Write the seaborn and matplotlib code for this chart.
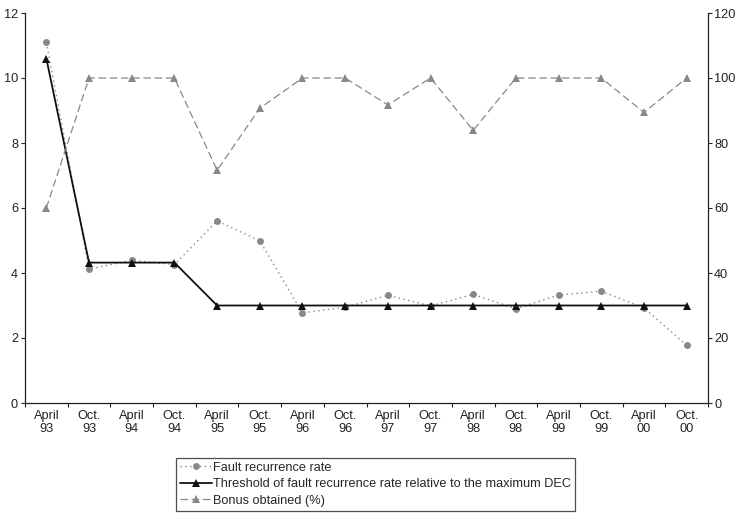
import matplotlib
matplotlib.use("Agg")
import matplotlib.pyplot as plt
import seaborn as sns
import pandas as pd
import numpy as np

periods = ["April\n93", "Oct.\n93", "April\n94", "Oct.\n94", "April\n95", "Oct.\n95",
           "April\n96", "Oct.\n96", "April\n97", "Oct.\n97", "April\n98", "Oct.\n98",
           "April\n99", "Oct.\n99", "April\n00", "Oct.\n00"]
fault_rate = [11.10, 4.12, 4.39, 4.26, 5.60, 4.99, 2.77, 2.95, 3.31, 2.99, 3.34, 2.90,
              3.32, 3.44, 2.93, 1.77]
threshold = [10.6, 4.32, 4.32, 4.32, 3.0, 3.0, 3.0, 3.0, 3.0, 3.0, 3.0, 3.0,
             3.0, 3.0, 3.0, 3.0]
bonus = [60, 100, 100, 100, 71.6, 90.7, 100, 100, 91.7, 100, 83.9, 100,
         100, 100, 89.4, 100]

sns.set_style("ticks")
plt.rcParams["font.family"] = ["Liberation Sans", "DejaVu Sans"]

df = pd.DataFrame({"x": np.arange(len(periods)), "fault": fault_rate,
                   "thr": threshold, "bonus": bonus})

fig = plt.figure(figsize=(7.37, 5.17), dpi=100)
ax = fig.add_axes([25/737, 1-403/517, (708-25)/737, (403-13)/517])
ax2 = ax.twinx()

sns.lineplot(data=df, x="x", y="fault", ax=ax, color="#888888", linestyle=(0, (1, 2.5)),
             linewidth=1.0, marker="o", markersize=5, markeredgewidth=0, sort=False,
             label="Fault recurrence rate", legend=False)
sns.lineplot(data=df, x="x", y="thr", ax=ax, color="#111111", linestyle="-",
             linewidth=1.3, marker="^", markersize=6, markeredgewidth=0, sort=False,
             label="Threshold of fault recurrence rate relative to the maximum DEC", legend=False)
sns.lineplot(data=df, x="x", y="bonus", ax=ax2, color="#888888", linestyle=(0, (6, 3)),
             linewidth=0.9, marker="^", markersize=5.5, markeredgewidth=0, sort=False,
             label="Bonus obtained (%)", legend=False)

fs = 9.2
ax.set_xlim(-0.5, len(periods) - 0.5)
ax.set_ylim(0, 12)
ax2.set_ylim(0, 120)
ax.set_yticks(range(0, 13, 2))
ax2.set_yticks(range(0, 121, 20))
ax.set_xticks(np.arange(len(periods)))
ax.set_xticklabels(periods, linespacing=1.1)
ax.set_xticks(np.arange(-0.5, len(periods)), minor=True)
ax.tick_params(axis="x", which="major", length=0, labelsize=fs, pad=5, colors="#222222")
ax.tick_params(axis="x", which="minor", length=3, width=0.8, color="#222222")
ax.tick_params(axis="y", labelsize=fs, length=3, width=0.8, pad=2, colors="#222222")
ax2.tick_params(axis="y", labelsize=fs, length=3, width=0.8, pad=1.5, colors="#222222")
ax.set_xlabel("")
ax.set_ylabel("")
ax2.set_ylabel("")

for a in (ax, ax2):
    a.spines["top"].set_visible(False)
    for s in ("left", "right", "bottom"):
        a.spines[s].set_linewidth(0.9)
        a.spines[s].set_color("#222222")
ax.spines["right"].set_visible(False)
ax2.spines["left"].set_visible(False)
ax2.spines["bottom"].set_visible(False)

h1, l1 = ax.get_legend_handles_labels()
h2, l2 = ax2.get_legend_handles_labels()
leg = fig.legend(h1 + h2, l1 + l2, loc="upper left",
                 bbox_to_anchor=(176/737, 1-458/517), fontsize=fs,
                 frameon=True, fancybox=False, edgecolor="#222222",
                 handlelength=2.5, handletextpad=0.1, borderpad=0.3,
                 labelspacing=0.35, borderaxespad=0)
leg.get_frame().set_linewidth(0.9)

fig.savefig("out.png", dpi=100)
